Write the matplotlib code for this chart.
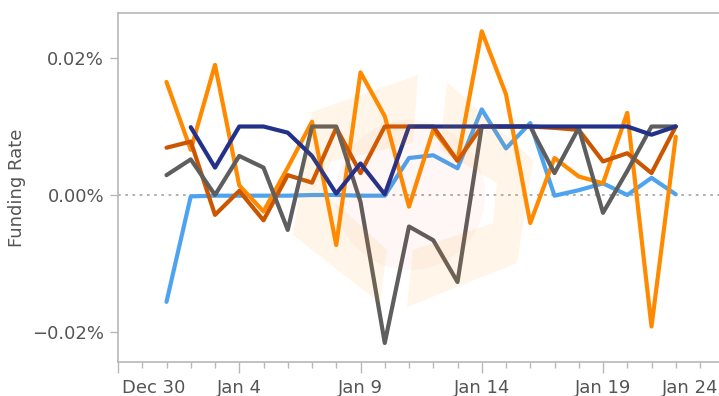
import numpy as np
import pandas as pd
import matplotlib
matplotlib.use('Agg')
import matplotlib.pyplot as plt
import matplotlib.ticker as mticker
from matplotlib.patches import Polygon, Ellipse
from matplotlib.transforms import ScaledTranslation

# daily funding rates, in thousandths of a percent
dates = pd.date_range('2024-01-01', periods=22, freq='D')
orange_rate = [16.5, 6.6, 19.0, 1.4, -2.4, 4.0, 10.7, -7.3, 17.9, 11.5, -1.7,
               9.5, 5.0, 23.9, 14.7, -4.1, 5.4, 2.7, 1.7, 12.0, -19.2, 8.5]
rust_rate = [6.9, 7.8, -2.9, 0.6, -3.7, 2.9, 1.8, 9.8, 3.2, 10.0, 10.0,
             10.0, 5.0, 10.0, 10.0, 10.0, 9.8, 9.5, 4.9, 6.1, 3.2, 10.0]
grey_rate = [2.9, 5.2, 0.0, 5.7, 4.0, -5.1, 10.0, 10.0, -1.0, -21.6, -4.6,
             -6.6, -12.7, 10.0, 10.0, 10.0, 3.2, 9.8, -2.6, 3.5, 10.0, 10.0]
blue_rate = [-15.6, -0.2, -0.1, -0.1, -0.1, -0.1, 0.0, 0.0, -0.1, -0.1, 5.4,
             5.8, 3.9, 12.5, 6.8, 10.5, -0.1, 0.7, 1.7, 0.0, 2.5, 0.1]
navy_rate = [np.nan, 9.9, 4.0, 10.0, 10.0, 9.1, 5.7, 0.2, 4.6, 0.1, 10.0,
             10.0, 10.0, 10.0, 10.0, 10.0, 10.0, 10.0, 10.0, 10.0, 8.8, 10.0]

tick_dates = pd.date_range('2023-12-30', periods=6, freq='5D')
tick_labels = ['Dec 30', 'Jan 4', 'Jan 9', 'Jan 14', 'Jan 19', 'Jan 24']
y_ticks = [-0.02, 0.0, 0.02]

W, H = 719, 396
fig = plt.figure(figsize=(W / 100, H / 100), dpi=100)
ax = fig.add_axes([118 / W, 34 / H, 622 / W, 349 / H])

series = [
    (blue_rate, '#4da3f0'),
    (orange_rate, '#ff8a00'),
    (rust_rate, '#cc5500'),
    (grey_rate, '#5e5e5e'),
    (navy_rate, '#22318a'),
]
for vals, col in series:
    ax.plot(dates, np.array(vals) / 1000, color=col, lw=3,
            solid_capstyle='round', solid_joinstyle='round', zorder=3)

ax.axhline(0, color='#aaaaaa', lw=1.3, ls=(0, (1.5, 2.5)), zorder=1)

start = pd.Timestamp('2023-12-30')
ax.set_xlim(start, start + pd.Timedelta(days=622 / 24.25))
ax.set_ylim(-0.02438, 0.02657)

ax.xaxis.set_major_locator(mticker.FixedLocator(
    [matplotlib.dates.date2num(d) for d in tick_dates]))
ax.xaxis.set_major_formatter(mticker.FixedFormatter(tick_labels))
ax.xaxis.set_minor_locator(matplotlib.dates.DayLocator())
ax.yaxis.set_major_locator(mticker.FixedLocator(y_ticks))
ax.yaxis.set_major_formatter(mticker.FuncFormatter(
    lambda v, p: f'{v:.2f}%'.replace('-', '\u2212')))

axis_col = '#b8b8b8'
text_col = '#555555'
for side in ['left', 'top', 'bottom']:
    ax.spines[side].set_color(axis_col)
    ax.spines[side].set_linewidth(1.2)
ax.spines['right'].set_visible(False)

ax.tick_params(axis='x', which='major', length=8, width=1, color=axis_col,
               labelsize=13, labelcolor=text_col, pad=4)
ax.tick_params(axis='x', which='minor', length=4.5, width=1, color=axis_col)
ax.tick_params(axis='y', length=6, width=1, color=axis_col,
               labelsize=13, labelcolor=text_col, pad=4)

ax.set_ylabel('Funding Rate', fontsize=13, color=text_col)
ax.yaxis.set_label_coords(-92 / 622, 0.5)

# keep the end labels inside the frame
fig.canvas.draw()
xlabels = ax.get_xticklabels()
xlabels[0].set_ha('left')
xlabels[0].set_transform(xlabels[0].get_transform()
                         + ScaledTranslation(4 / 100, 0, fig.dpi_scale_trans))
xlabels[-1].set_ha('right')
xlabels[-1].set_transform(xlabels[-1].get_transform()
                          + ScaledTranslation(-6 / 100, 0, fig.dpi_scale_trans))


def px(pts):
    return [(x / W, 1 - y / H) for x, y in pts]


# faint logo watermark over the plot
left_piece = [(312, 112), (418, 75), (413, 143), (330, 162), (325, 193),
              (387, 250), (380, 303), (293, 235)]
right_piece = [(447, 82), (533, 160), (517, 263), (407, 307), (413, 250),
               (493, 223), (497, 183), (440, 150)]
for pts in (left_piece, right_piece):
    fig.add_artist(Polygon(px(pts), closed=True, transform=fig.transFigure,
                           facecolor='#ff9500', edgecolor='none', alpha=0.09,
                           joinstyle='round', zorder=5))
fig.add_artist(Ellipse((410 / W, 1 - 195 / H), 150 / W, 150 / H,
                       transform=fig.transFigure, facecolor='#ee4422',
                       edgecolor='none', alpha=0.04, zorder=5))

fig.savefig('out.png', dpi=100)
